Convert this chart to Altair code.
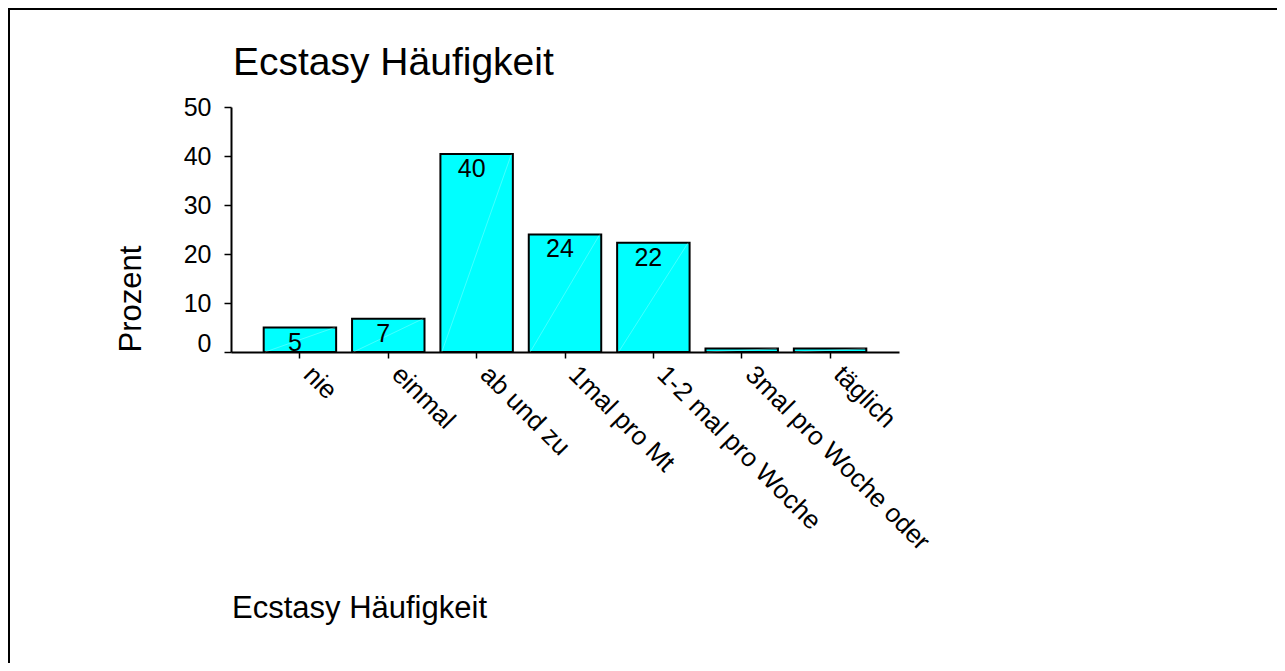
import altair as alt
import pandas as pd

categories = ["nie", "einmal", "ab und zu", "1mal pro Mt", "1-2 mal pro Woche",
              "3mal pro Woche oder", "täglich"]
percent = [5.0, 6.8, 40.4, 24.0, 22.3, 0.7, 0.7]
value_labels = ["5", "7", "40", "24", "22", "", ""]
y_ticks = [0, 10, 20, 30, 40, 50]
title_text = "Ecstasy Häufigkeit"
caption_text = "Ecstasy Häufigkeit"
y_title = "Prozent"

df = pd.DataFrame({"cat": categories, "pct": percent, "lbl": value_labels})

FONT = "Liberation Sans"
W, H = 668, 245
PAD_L, PAD_T = 223, 99
TOTAL_W, TOTAL_H = 1269, 655

x_scale = alt.Scale(paddingInner=0.18, paddingOuter=0.37)

x_axis = alt.Axis(
    title=None, labelAngle=45, labelAlign="left", labelBaseline="middle",
    labelFontSize=26, labelFont=FONT, labelColor="black", labelPadding=12,
    labelOffset=8, labelLimit=0,
    tickSize=6, tickWidth=1.5, tickColor="black",
    domainColor="black", domainWidth=2, grid=False,
)
y_axis = alt.Axis(
    values=y_ticks, grid=False,
    title=y_title, titleFont=FONT, titleFontSize=31, titleFontWeight="normal",
    titleColor="black", titleAngle=270, titleAlign="left",
    titleBaseline="alphabetic", titleX=-91, titleY=H,
    labelFont=FONT, labelFontSize=25, labelColor="black", labelPadding=13,
    labelBaseline={"condition": {"test": "datum.value === 0", "value": "alphabetic"},
                   "value": "middle"},
    labelOffset={"condition": {"test": "datum.value === 0", "value": -1},
                 "value": 0},
    tickSize=7, tickWidth=1.5, tickColor="black",
    domainColor="black", domainWidth=2,
)

base = alt.Chart(df)

bars = base.mark_bar(color="#00FFFF", stroke="black", strokeWidth=2).encode(
    x=alt.X("cat:N", sort=None, scale=x_scale, axis=x_axis),
    y=alt.Y("pct:Q", scale=alt.Scale(domain=[0, 50], nice=False), axis=y_axis),
)

diag = base.transform_calculate(zero="0").mark_rule(
    color="#ffffff", strokeWidth=0.6, strokeOpacity=0.45
).encode(
    x=alt.X("cat:N", sort=None, bandPosition=0.02),
    x2=alt.X2("cat", bandPosition=0.98),
    y=alt.Y("zero:Q"),
    y2=alt.Y2("pct"),
)

texts = base.mark_text(
    font=FONT, fontSize=25, baseline="top", dy=3, dx=-5, color="black"
).encode(
    x=alt.X("cat:N", sort=None),
    y=alt.Y("pct:Q"),
    text="lbl:N",
)

one = alt.Chart(pd.DataFrame({"t": [title_text], "c": [caption_text]}))

title = one.mark_text(
    font=FONT, fontSize=39, align="left", baseline="alphabetic", color="black"
).encode(x=alt.value(2), y=alt.value(-32), text="t:N")

caption = one.mark_text(
    font=FONT, fontSize=31, align="left", baseline="alphabetic", color="black"
).encode(x=alt.value(1), y=alt.value(511), text="c:N")

frame_top = one.mark_rule(color="black", strokeWidth=2).encode(
    x=alt.value(-222), x2=alt.value(TOTAL_W - PAD_L), y=alt.value(-98)
)
frame_left = one.mark_rule(color="black", strokeWidth=2).encode(
    x=alt.value(-222), y=alt.value(-99), y2=alt.value(TOTAL_H - PAD_T)
)

chart = alt.layer(bars, diag, texts, title, caption, frame_top, frame_left).properties(
    width=W, height=H,
    padding={"left": PAD_L, "top": PAD_T,
             "right": TOTAL_W - PAD_L - W, "bottom": TOTAL_H - PAD_T - H},
    autosize=alt.AutoSizeParams(type="none"),
).configure_view(stroke=None)

chart.save("out.html", embed_options={"renderer": "svg", "actions": False})
